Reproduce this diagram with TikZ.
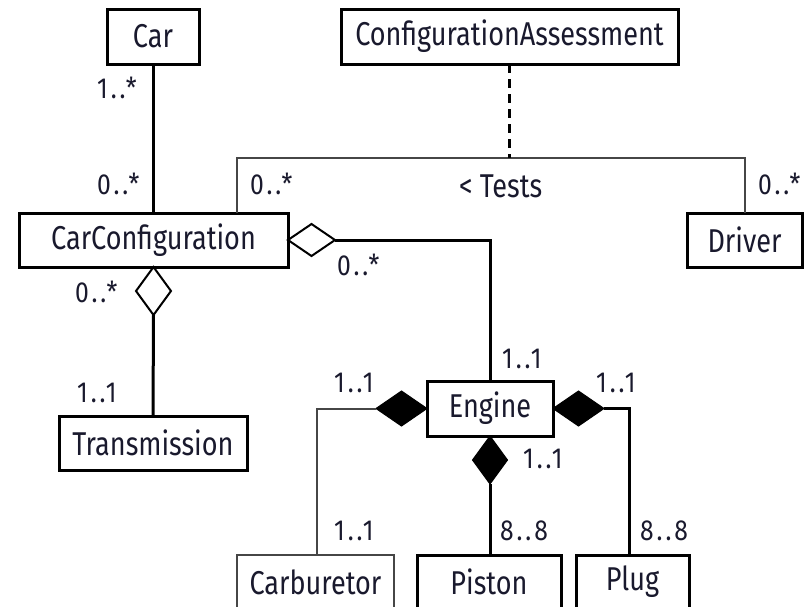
\documentclass[tikz,border=0pt]{standalone}
\usepackage{fontspec}
\setmainfont{Fira Sans}[FakeStretch=0.82]
\newfontfamily\multfont{Fira Sans}[FakeStretch=0.85, LetterSpace=10]
\usetikzlibrary{shapes.geometric}
\definecolor{ink}{RGB}{25,25,45}
\definecolor{thinline}{RGB}{70,70,70}
\tikzset{
  cls/.style={draw=black, line width=3pt, fill=white, text=ink, inner sep=0pt, outer sep=0pt,
    font=\fontsize{33}{38}\selectfont},
  thincls/.style={cls, draw=thinline, line width=2pt},
  mult/.style={anchor=base west, inner sep=0pt, text=ink, font=\multfont\fontsize{29}{34}\selectfont},
  conn/.style={line width=3pt, draw=black},
  thinconn/.style={line width=2pt, draw=thinline},
  agg/.style={diamond, draw=black, line width=2pt, fill=white, inner sep=0pt, outer sep=0pt},
  comp/.style={diamond, draw=black, fill=black, line width=1pt, inner sep=0pt, outer sep=0pt},
}
\begin{document}
\begin{tikzpicture}[x=1pt,y=-1pt]
\useasboundingbox (0,0) rectangle (808,606);
\clip (0,0) rectangle (808,606);

% classes
\node[cls, minimum width=92, minimum height=55] (car) at (153,36.5) {Car};
\node[cls, minimum width=337, minimum height=55] (ca) at (509.5,36.5) {ConfigurationAssessment};
\node[cls, minimum width=269, minimum height=54] (cc) at (153.5,240) {CarConfiguration};
\node[cls, minimum width=115, minimum height=54] (drv) at (744.5,240) {Driver};
\node[cls, minimum width=188, minimum height=54] (tr) at (153,443) {Transmission};
\node[cls, minimum width=126, minimum height=55] (eng) at (490,408.5) {Engine};
\node[thincls, minimum width=157, minimum height=54] (carb) at (315.5,582) {Carburetor};
\node[cls, minimum width=144, minimum height=54] (pis) at (489,582) {Piston};
\node[cls, minimum width=113, minimum height=54] (plug) at (632.5,582) {Plug};

% Car -- CarConfiguration
\draw[conn] (car.south) -- (car.south |- cc.north);

% association class
\coordinate (tl) at (237,158);
\coordinate (trc) at (744.5,158);
\draw[thinconn] (cc.north -| tl) -- (tl) -- (trc) -- (drv.north);
\draw[conn, dash pattern=on 9pt off 6pt] (ca.south) -- (ca.south |- tl);

% aggregations
\node[agg, minimum width=47, minimum height=32, anchor=west] (dE) at (cc.east) {};
\draw[conn] (dE.east) -| (eng.north);
\node[agg, minimum width=35, minimum height=48, anchor=north] (dT) at (cc.south) {};
\draw[conn] (dT.south) -- (tr.north);

% compositions
\node[comp, minimum width=51, minimum height=35, anchor=east] (dC) at (eng.west) {};
\draw[thinconn] (dC.west) -| (carb.north -| 317,0);
\node[comp, minimum width=51, minimum height=35, anchor=west] (dP) at (eng.east) {};
\draw[conn] (dP.east) -| (plug.north -| 629,0);
\node[comp, minimum width=35, minimum height=48, anchor=north] (dS) at (eng.south) {};
\draw[conn] (dS.south) -- (dS.south |- pis.north);

% multiplicities
\node[mult] (m1) at (97,98) {1..*};
\node[mult] (m2) at (97,194) {0..*};
\node[mult] (m3) at (250,194) {0..*};
\node[anchor=base west, inner sep=0pt, text=ink, font=\fontsize{33}{38}\selectfont] (tests) at (459,197) {< Tests};
\node[mult] (m4) at (758,194) {0..*};
\node[mult] (m5) at (337,275) {0..*};
\node[mult] (m6) at (75,302) {0..*};
\node[mult] (m7) at (77,402) {1..1};
\node[mult] (m8) at (502,368) {1..1};
\node[mult] (m9) at (334,392) {1..1};
\node[mult] (m10) at (596,392) {1..1};
\node[mult] (m11) at (523,468) {1..1};
\node[mult] (m12) at (334,540) {1..1};
\node[mult] (m13) at (500,540) {8..8};
\node[mult] (m14) at (640,540) {8..8};
\end{tikzpicture}
\end{document}
